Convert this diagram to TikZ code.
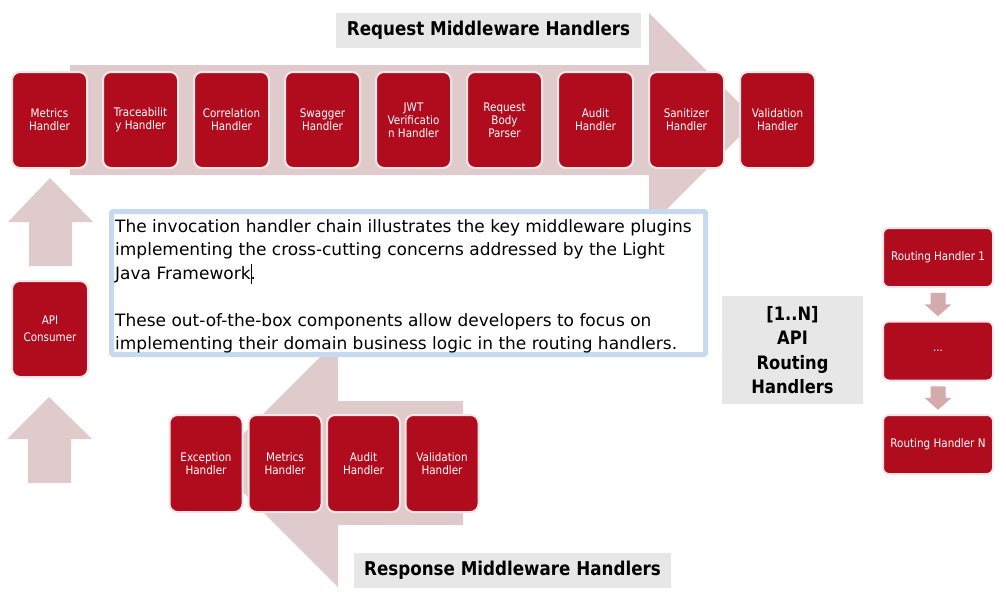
\documentclass[tikz,border=0pt]{standalone}
\usepackage{fontspec}
\setmainfont{DejaVu Sans}
\newfontfamily\narrowfont{DejaVu Sans}[FakeStretch=0.88]
\usetikzlibrary{calc}
\definecolor{hred}{RGB}{176,12,30}
\definecolor{arr}{RGB}{224,203,204}
\definecolor{sarr}{RGB}{213,170,172}
\definecolor{gbox}{RGB}{231,231,231}
\definecolor{tbord}{RGB}{198,217,241}
\definecolor{hbord}{RGB}{247,230,232}
\begin{document}
\begin{tikzpicture}[x=1pt,y=-1pt,
  handler/.style={rectangle, rounded corners=8pt, fill=hred, draw=hbord, line width=2pt,
    text=white, align=center, font=\narrowfont\fontsize{11.8}{13}\selectfont, inner sep=1pt,
    minimum width=75pt, minimum height=96pt},
  resp/.style={handler, minimum width=73pt, minimum height=97pt},
  routing/.style={handler, rounded corners=6pt, minimum width=110pt, minimum height=59pt},
  titlebox/.style={fill=gbox, inner sep=0pt, font=\narrowfont\fontsize{19}{24}\selectfont\bfseries, align=center},
  bigarrow/.style={fill=arr},
  smallarrow/.style={fill=sarr}]
\useasboundingbox (0,0) rectangle (1006,597);

% big block arrows
\fill[bigarrow] (70,65) -- (649,65) -- (649,13) -- (756,120) -- (649,227) -- (649,175) -- (70,175) -- cycle;
\fill[bigarrow] (463,401) -- (338,401) -- (338,339) -- (214,463) -- (338,587) -- (338,525) -- (463,525) -- cycle;
\fill[bigarrow] (29,266) -- (29,222) -- (8,222) -- (50,178) -- (93,222) -- (72,222) -- (72,266) -- cycle;
\fill[bigarrow] (28,483) -- (28,439) -- (7,439) -- (49,397) -- (92,439) -- (71,439) -- (71,483) -- cycle;

% titles
\node[titlebox, minimum width=305pt, minimum height=35pt] (reqtitle) at (488.5,30.5) {Request Middleware Handlers};
\node[titlebox, minimum width=317pt, minimum height=35pt] (resptitle) at (512.5,570.5) {Response Middleware Handlers};
\node[titlebox, minimum width=141pt, minimum height=108pt, font=\narrowfont\fontsize{18.5}{24.3}\selectfont\bfseries] (routetitle) at (792.5,350) {[1..N]\\API\\Routing\\Handlers};

% text box
\draw[draw=tbord, fill=white, line width=5pt, rounded corners=1.5pt] (111.5,211.5) rectangle (705.5,354.5);
\node[anchor=base west, inner sep=0pt, font=\fontsize{17}{23.5}\selectfont] (desc) at (115,232)
 {\parbox[t]{590pt}{\raggedright
 The invocation handler chain illustrates the key middleware plugins\\
 implementing the cross-cutting concerns addressed by the Light\\
 Java Framework\rlap{\rule[-5pt]{1.8pt}{20pt}}.\\[23.5pt]
 These out-of-the-box components allow developers to focus on\\
 implementing their domain business logic in the routing handlers.}};

% request handlers
\node[handler] (q1) at (49.5,120) {Metrics\\Handler};
\node[handler] (q2) at (140.5,120) {Traceabilit\\y Handler};
\node[handler] (q3) at (231.5,120) {Correlation\\Handler};
\node[handler] (q4) at (322.5,120) {Swagger\\Handler};
\node[handler] (q5) at (413.5,120) {JWT\\Verificatio\\n Handler};
\node[handler] (q6) at (504.5,120) {Request\\Body\\Parser};
\node[handler] (q7) at (595.5,120) {Audit\\Handler};
\node[handler] (q8) at (686.5,120) {Sanitizer\\Handler};
\node[handler] (q9) at (777.5,120) {Validation\\Handler};

% consumer
\node[handler, minimum width=76pt] (consumer) at (50,329) {API\\[4pt]Consumer};

% response handlers
\node[resp] (p1) at (206,463.5) {Exception\\Handler};
\node[resp] (p2) at (285,463.5) {Metrics\\Handler};
\node[resp] (p3) at (363.5,463.5) {Audit\\Handler};
\node[resp] (p4) at (442,463.5) {Validation\\Handler};

% routing handlers
\node[routing] (r1) at (938,257.5) {Routing Handler 1};
\node[routing] (r2) at (938,351) {...};
\node[routing] (r3) at (938,444.5) {Routing Handler N};

\coordinate (m1) at ($(r1.south)!0.5!(r2.north)$);
\coordinate (m2) at ($(r2.south)!0.5!(r3.north)$);
\foreach \m in {m1,m2}{
  \begin{scope}[shift={(\m)}]
    \fill[smallarrow] (-7.5,-11.5) -- (7.5,-11.5) -- (7.5,0) -- (13.5,0) -- (0,12) -- (-13.5,0) -- (-7.5,0) -- cycle;
  \end{scope}
}
\end{tikzpicture}
\end{document}
